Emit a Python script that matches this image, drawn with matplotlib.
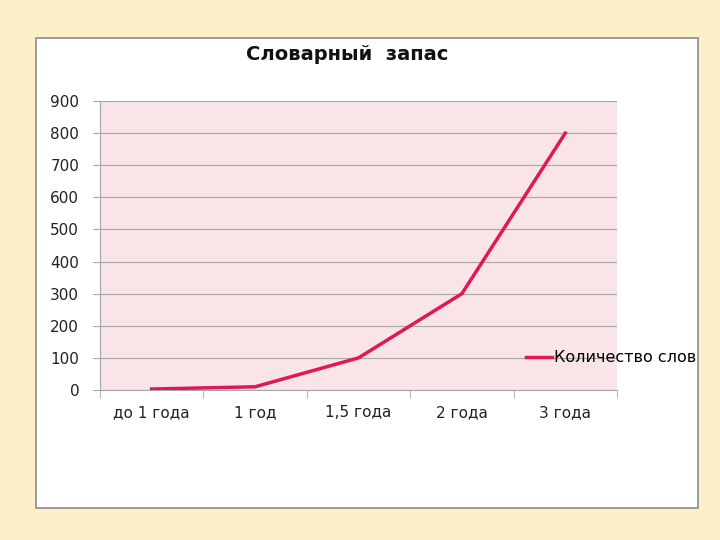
import matplotlib.pyplot as plt
from matplotlib.patches import Rectangle

categories = ["до 1 года", "1 год", "1,5 года", "2 года", "3 года"]
words = [3, 10, 100, 300, 800]
series_name = "Количество слов"
title = "Словарный  запас"

plt.rcParams['font.family'] = ['DejaVu Sans']

fig = plt.figure(figsize=(7.2, 5.4), dpi=100)
fig.patch.set_facecolor("#fdf0c8")

# white chart box behind the axes
box = Rectangle((36 / 720, 1 - 508 / 540), 662 / 720, 470 / 540,
                transform=fig.transFigure, facecolor="white",
                edgecolor="#8c8c8c", linewidth=1.2, zorder=-10)
fig.patches.append(box)

ax = fig.add_axes([100 / 720, 1 - 390 / 540, 517 / 720, 289 / 540])
ax.set_zorder(1)
ax.set_facecolor("#f9e4e8")

x = list(range(len(categories)))
ax.plot(x, words, color="#e0185a", linewidth=2.5, label=series_name, zorder=3)

ax.set_xlim(-0.5, len(categories) - 0.5)
ax.set_ylim(0, 900)
ax.set_yticks(range(0, 901, 100))
ax.grid(axis="y", color="#a6a6a6", linewidth=0.8)
ax.set_axisbelow(True)

ax.set_xticks(x)
ax.set_xticklabels(categories)
ax.set_xticks([i - 0.5 for i in range(len(categories) + 1)], minor=True)
ax.tick_params(axis="x", which="major", length=0, pad=11, labelsize=11, labelcolor="#222222")
ax.tick_params(axis="x", which="minor", length=6, color="#a6a6a6", direction="out")
ax.tick_params(axis="y", length=5, color="#a6a6a6", pad=10, labelsize=11, labelcolor="#222222")

for s in ["top", "right"]:
    ax.spines[s].set_visible(False)
ax.spines["left"].set_color("#a6a6a6")
ax.spines["bottom"].set_color("#a6a6a6")

fig.text(347 / 720, 1 - 55 / 540, title, ha="center", va="center",
         fontsize=14, fontweight="bold", color="#111111")

fig.legend(loc="center left", bbox_to_anchor=(512 / 720, 1 - 358 / 540),
           frameon=False, handlelength=1.6, handletextpad=0.1,
           prop={"size": 11.5})

fig.savefig("out.png", dpi=100)
